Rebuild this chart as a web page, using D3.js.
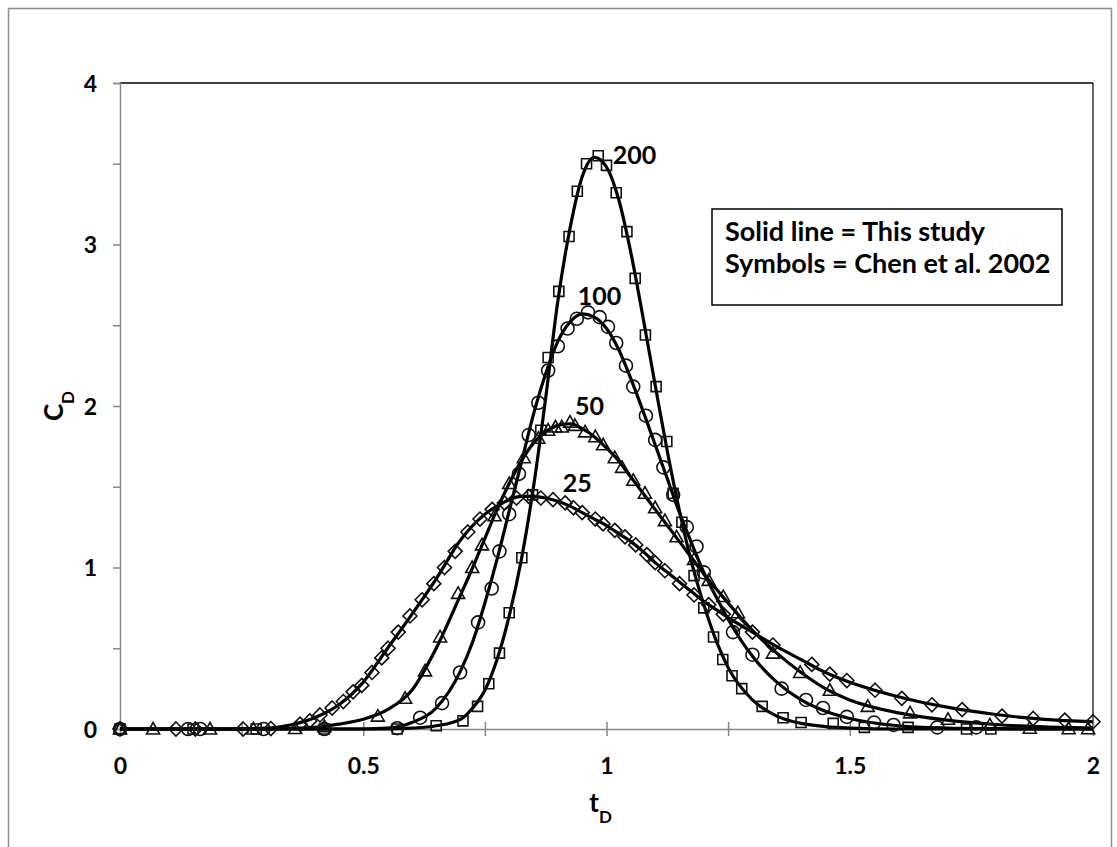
<!DOCTYPE html>
<html><head><meta charset="utf-8">
<script src="https://cdn.jsdelivr.net/npm/d3@7"></script>
<style>
html,body{margin:0;padding:0;background:#fff;}
svg text{font-family:Lato,"Open Sans",sans-serif;font-weight:bold;fill:#000;}
</style></head>
<body>
<svg id="chart" width="1117" height="847"></svg>
<script>
// ---- data ----
const lineT   = [0,0.1,0.2,0.3,0.35,0.4,0.45,0.5,0.55,0.6,0.65,0.7,0.725,0.75,0.775,0.8,0.825,0.85,0.875,0.9,0.925,0.95,0.975,1.0,1.025,1.05,1.075,1.1,1.125,1.15,1.175,1.2,1.225,1.25,1.3,1.35,1.4,1.45,1.5,1.6,1.7,1.8,1.9,2.0];
const line25  = [0,0,0,0.005,0.025,0.07,0.15,0.29,0.5,0.71,0.93,1.17,1.26,1.33,1.38,1.42,1.44,1.44,1.43,1.41,1.38,1.34,1.30,1.26,1.21,1.16,1.10,1.03,0.97,0.91,0.85,0.79,0.74,0.69,0.60,0.51,0.43,0.35,0.29,0.20,0.135,0.09,0.06,0.045];
const line50  = [0,0,0,0,0.003,0.01,0.03,0.06,0.12,0.24,0.5,0.83,1.0,1.18,1.36,1.52,1.66,1.77,1.84,1.88,1.89,1.86,1.81,1.74,1.66,1.56,1.46,1.36,1.26,1.16,1.06,0.96,0.87,0.78,0.61,0.47,0.35,0.25,0.18,0.10,0.055,0.028,0.013,0.006];
const line100 = [0,0,0,0,0,0,0,0,0.005,0.04,0.13,0.36,0.54,0.78,1.05,1.35,1.65,1.95,2.2,2.4,2.52,2.57,2.55,2.48,2.35,2.17,1.97,1.76,1.55,1.34,1.15,0.97,0.82,0.68,0.45,0.29,0.18,0.11,0.065,0.02,0.006,0.002,0,0];
const line200 = [0,0,0,0,0,0,0,0,0,0.005,0.02,0.06,0.13,0.24,0.43,0.70,1.05,1.50,2.05,2.65,3.10,3.42,3.54,3.48,3.28,2.95,2.55,2.13,1.72,1.35,1.03,0.77,0.55,0.38,0.18,0.08,0.035,0.015,0.006,0,0,0,0,0];

const sym25 = [[0,0],[0.115,0],[0.155,0],[0.253,0],[0.31,0.003],[0.37,0.03],[0.39,0.05],[0.411,0.087],[0.436,0.13],[0.459,0.17],[0.479,0.23],[0.497,0.27],[0.518,0.35],[0.538,0.44],[0.551,0.5],[0.572,0.6],[0.596,0.7],[0.621,0.8],[0.645,0.9],[0.667,1.0],[0.689,1.1],[0.715,1.22],[0.74,1.3],[0.765,1.36],[0.79,1.4],[0.815,1.43],[0.84,1.44],[0.865,1.43],[0.89,1.42],[0.915,1.4],[0.932,1.37],[0.95,1.34],[0.977,1.3],[0.993,1.27],[1.017,1.23],[1.038,1.19],[1.06,1.14],[1.083,1.08],[1.10,1.03],[1.12,0.98],[1.15,0.9],[1.18,0.83],[1.21,0.77],[1.24,0.71],[1.27,0.65],[1.30,0.6],[1.342,0.52],[1.422,0.4],[1.459,0.34],[1.494,0.3],[1.552,0.24],[1.607,0.19],[1.669,0.15],[1.731,0.12],[1.813,0.08],[1.877,0.065],[1.942,0.055],[2.0,0.045]];
const sym50 = [[0,0],[0.068,0],[0.185,0],[0.274,0],[0.36,0.003],[0.42,0.015],[0.53,0.08],[0.586,0.19],[0.627,0.36],[0.658,0.57],[0.695,0.84],[0.724,1.0],[0.744,1.14],[0.77,1.32],[0.80,1.52],[0.83,1.68],[0.86,1.8],[0.88,1.85],[0.895,1.87],[0.908,1.87],[0.925,1.9],[0.935,1.88],[0.956,1.84],[0.977,1.81],[0.993,1.76],[1.017,1.68],[1.032,1.62],[1.055,1.54],[1.079,1.46],[1.10,1.37],[1.12,1.29],[1.144,1.19],[1.18,1.05],[1.21,0.92],[1.24,0.82],[1.27,0.72],[1.342,0.47],[1.398,0.35],[1.459,0.24],[1.537,0.14],[1.624,0.1],[1.702,0.06],[1.788,0.025],[1.87,0.005],[1.95,0.002],[1.99,0.002]];
const sym100 = [[0,0],[0.14,0],[0.165,0],[0.295,0],[0.42,0],[0.57,0.005],[0.617,0.07],[0.662,0.16],[0.699,0.35],[0.736,0.66],[0.764,0.87],[0.78,1.1],[0.80,1.33],[0.82,1.58],[0.84,1.82],[0.86,2.02],[0.88,2.22],[0.90,2.37],[0.92,2.48],[0.939,2.54],[0.962,2.58],[0.986,2.55],[1.003,2.49],[1.02,2.39],[1.04,2.25],[1.055,2.12],[1.081,1.94],[1.10,1.79],[1.117,1.62],[1.137,1.45],[1.165,1.25],[1.185,1.13],[1.20,0.97],[1.26,0.6],[1.30,0.46],[1.36,0.25],[1.41,0.18],[1.445,0.13],[1.494,0.075],[1.55,0.04],[1.59,0.025],[1.68,0.01],[1.76,0.01]];
const sym200 = [[0,0],[0.15,0],[0.28,0],[0.42,0],[0.57,0],[0.65,0.02],[0.705,0.05],[0.735,0.14],[0.758,0.28],[0.78,0.47],[0.80,0.72],[0.826,1.06],[0.848,1.45],[0.865,1.85],[0.88,2.3],[0.902,2.71],[0.923,3.05],[0.94,3.33],[0.959,3.5],[0.983,3.55],[1.0,3.49],[1.02,3.32],[1.042,3.08],[1.059,2.79],[1.08,2.44],[1.102,2.12],[1.124,1.78],[1.137,1.46],[1.155,1.28],[1.18,0.95],[1.2,0.75],[1.22,0.57],[1.239,0.43],[1.258,0.33],[1.278,0.25],[1.32,0.14],[1.363,0.07],[1.4,0.04],[1.466,0.035],[1.53,0.01],[1.62,0.01],[1.74,0],[1.79,0]];

const seriesLabels = ["25","50","100","200"];
const labelPos = [[0.91,1.467],[0.935,1.944],[0.941,2.625],[1.013,3.50]];
const xTicks = [0,0.25,0.5,0.75,1,1.25,1.5,1.75,2];
const xLabels = [0,0.5,1,1.5,2];
const yTicks = [0,0.5,1,1.5,2,2.5,3,3.5,4];
const yLabels = [0,1,2,3,4];
const legendLines = ["Solid line = This study","Symbols = Chen et al. 2002"];

// ---- drawing ----
const svg = d3.select("#chart");
const x = d3.scaleLinear().domain([0,2]).range([120,1093]);
const y = d3.scaleLinear().domain([0,4]).range([729,83]);

// outer border
svg.append("rect").attr("x",8.5).attr("y",8.5).attr("width",1103).attr("height",850)
  .attr("fill","none").attr("stroke","#8c8c8c").attr("stroke-width",1.5);

// plot frame top/right
svg.append("line").attr("x1",x(0)).attr("x2",x(2)).attr("y1",y(4)).attr("y2",y(4)).attr("stroke","#000").attr("stroke-width",1.5);
svg.append("line").attr("x1",x(2)).attr("x2",x(2)).attr("y1",y(4)).attr("y2",y(0)).attr("stroke","#000").attr("stroke-width",1.2);

// y axis
const yAxis = svg.append("g").attr("transform",`translate(${x(0)},0)`)
  .call(d3.axisLeft(y).tickValues(yTicks).tickSize(7).tickFormat(d => yLabels.includes(d) ? d : ""));
yAxis.select(".domain").attr("stroke","#868686").attr("stroke-width",1.5);
yAxis.selectAll(".tick line").attr("stroke","#868686").attr("stroke-width",1.5);
yAxis.selectAll(".tick text").attr("x",-23).attr("dy","0.36em").style("font-size","23px").style("font-family","Lato, sans-serif");

// x axis
const xAxis = svg.append("g").attr("transform",`translate(0,${y(0)})`)
  .call(d3.axisBottom(x).tickValues(xTicks).tickSize(7).tickFormat(d => xLabels.includes(d) ? d : ""));
xAxis.select(".domain").attr("stroke","#868686").attr("stroke-width",1.5);
xAxis.selectAll(".tick line").attr("y1",-7).attr("y2",7).attr("stroke","#868686").attr("stroke-width",1.5);
xAxis.selectAll(".tick text").attr("y",45).attr("dy",0).style("font-size","23px").style("font-family","Lato, sans-serif");

// axis titles
const yt = svg.append("text").attr("transform",`translate(63,${y(2)}) rotate(-90)`).attr("text-anchor","middle").style("font-size","26px");
yt.append("tspan").text("C");
yt.append("tspan").text("D").attr("baseline-shift","sub").style("font-size","17px");
const xt = svg.append("text").attr("x",x(1)-6).attr("y",812).attr("text-anchor","middle").style("font-size","26px");
xt.append("tspan").text("t");
xt.append("tspan").text("D").attr("baseline-shift","sub").style("font-size","17px");

// lines
const lineGen = d3.line().x(d => x(d[0])).y(d => y(d[1])).curve(d3.curveMonotoneX);
[line25,line50,line100,line200].forEach(vals => {
  svg.append("path").datum(lineT.map((t,i)=>[t,vals[i]]))
    .attr("d",lineGen).attr("fill","none").attr("stroke","#000").attr("stroke-width",3.2);
});

// markers
const shapes = {
  diamond: "M0,-7L7,0L0,7L-7,0Z",
  triangle: "M0,-6.5L6.5,5L-6.5,5Z",
  circle: "M6.5,0A6.5,6.5 0 1,1 -6.5,0A6.5,6.5 0 1,1 6.5,0Z",
  square: "M-5,-5H5V5H-5Z"
};
[[sym25,"diamond"],[sym50,"triangle"],[sym100,"circle"],[sym200,"square"]].forEach(([pts,shape]) => {
  svg.append("g").selectAll("path").data(pts).join("path")
    .attr("transform",d => `translate(${x(d[0])},${y(d[1])})`)
    .attr("d",shapes[shape]).attr("fill","none").attr("stroke","#111").attr("stroke-width",1.6);
});

// series labels
svg.append("g").selectAll("text").data(seriesLabels).join("text")
  .attr("x",(d,i)=>x(labelPos[i][0])).attr("y",(d,i)=>y(labelPos[i][1]))
  .attr("text-anchor","start").style("font-size","25px").text(d=>d);

// legend
svg.append("rect").attr("x",712).attr("y",209).attr("width",350).attr("height",96)
  .attr("fill","#fff").attr("stroke","#000").attr("stroke-width",1.5);
svg.append("g").selectAll("text").data(legendLines).join("text")
  .attr("x",725).attr("y",(d,i)=>241+i*32).style("font-size","27px").text(d=>d);
</script>
</body></html>
